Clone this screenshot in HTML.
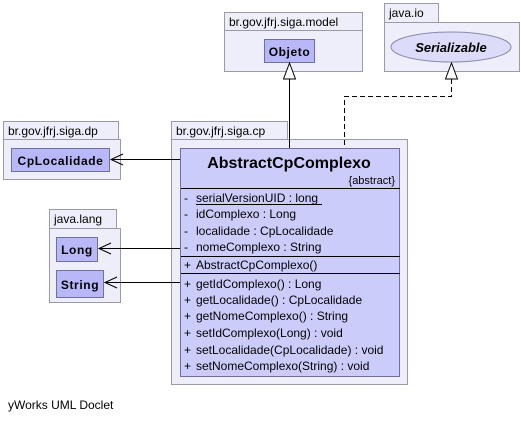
<!DOCTYPE html>
<html><head><meta charset="utf-8"><style>
html,body{margin:0;padding:0;background:#fff;}
svg{display:block;font-family:"Liberation Sans",Arial,sans-serif;}
</style></head><body>
<svg width="521" height="421" viewBox="0 0 521 421" xmlns="http://www.w3.org/2000/svg">
<g stroke="#9a9aaa" stroke-width="1" fill="#eeeefa">
  <rect x="224.5" y="12.5" width="138" height="18"/>
  <rect x="224.5" y="30.5" width="138" height="41"/>
  <rect x="384.5" y="3.5" width="54" height="19"/>
  <rect x="384.5" y="22.5" width="135" height="49"/>
  <rect x="3.5" y="121.5" width="115" height="18"/>
  <rect x="3.5" y="139.5" width="117" height="40"/>
  <rect x="49.5" y="209.5" width="67" height="19"/>
  <rect x="49.5" y="228.5" width="71" height="74"/>
  <rect x="171.5" y="121.5" width="116" height="18"/>
  <rect x="171.5" y="139.5" width="236" height="245"/>
</g>
<g font-size="12" fill="#000">
  <text x="229" y="26">br.gov.jfrj.siga.model</text>
  <text x="389" y="17">java.io</text>
  <text x="8" y="135">br.gov.jfrj.siga.dp</text>
  <text x="54" y="223">java.lang</text>
  <text x="176" y="135">br.gov.jfrj.siga.cp</text>
</g>
<g stroke="#7070a0" fill="#b8b8f8">
  <rect x="264.5" y="39.5" width="50" height="23"/>
  <rect x="11.5" y="148.5" width="98" height="23"/>
  <rect x="56.5" y="237.5" width="41" height="24"/>
  <rect x="56.5" y="270.5" width="47" height="27"/>
</g>
<ellipse cx="451" cy="47" rx="60" ry="15" fill="#dcdcfa" stroke="#8a8aaa"/>
<g font-weight="bold" font-size="12" letter-spacing="0.6" fill="#000" text-anchor="middle">
  <text x="289.5" y="56">Objeto</text>
  <text x="60.5" y="165">CpLocalidade</text>
  <text x="77" y="254">Long</text>
  <text x="80" y="289">String</text>
</g>
<text x="451" y="52" text-anchor="middle" font-weight="bold" font-style="italic" font-size="13">Serializable</text>
<rect x="180.5" y="148.5" width="219" height="228" fill="#ccccfa" stroke="#7070a0"/>
<g stroke="#000">
  <line x1="181" y1="188.5" x2="400" y2="188.5"/>
  <line x1="181" y1="256.5" x2="400" y2="256.5"/>
  <line x1="181" y1="273.5" x2="400" y2="273.5"/>
</g>
<text x="289" y="168" text-anchor="middle" font-weight="bold" font-size="16">AbstractCpComplexo</text>
<text x="395" y="184" text-anchor="end" font-size="11">{abstract}</text>
<g font-size="12" fill="#000">
  <text x="184" y="202">-</text><text x="196" y="202">serialVersionUID : long</text>
  <line x1="196" y1="204.5" x2="322" y2="204.5" stroke="#000"/>
  <text x="184" y="218">-</text><text x="196" y="218">idComplexo : Long</text>
  <text x="184" y="235">-</text><text x="196" y="235">localidade : CpLocalidade</text>
  <text x="184" y="251">-</text><text x="196" y="251">nomeComplexo : String</text>
  <text x="184" y="269">+</text><text x="196" y="269">AbstractCpComplexo()</text>
  <text x="184" y="288">+</text><text x="196" y="288">getIdComplexo() : Long</text>
  <text x="184" y="304">+</text><text x="196" y="304">getLocalidade() : CpLocalidade</text>
  <text x="184" y="320">+</text><text x="196" y="320">getNomeComplexo() : String</text>
  <text x="184" y="337">+</text><text x="196" y="337">setIdComplexo(Long) : void</text>
  <text x="184" y="354">+</text><text x="196" y="354">setLocalidade(CpLocalidade) : void</text>
  <text x="184" y="370">+</text><text x="196" y="370">setNomeComplexo(String) : void</text>
</g>
<g stroke="#000" fill="none">
  <line x1="289.5" y1="79" x2="289.5" y2="148"/>
  <polygon points="289.5,63 283.5,79 295.5,79" fill="#fff"/>
  <polyline points="451.5,79 451.5,96.5 344.5,96.5 344.5,148" stroke-dasharray="5,3"/>
  <polygon points="451.5,63 445.5,79 457.5,79" fill="#fff"/>
  <line x1="111" y1="159.5" x2="180" y2="159.5"/>
  <polyline points="123,154 111,159.5 123,165"/>
  <line x1="99" y1="248.5" x2="180" y2="248.5"/>
  <polyline points="111,243 99,248.5 111,254"/>
  <line x1="105" y1="282.5" x2="180" y2="282.5"/>
  <polyline points="117,277 105,282.5 117,288"/>
</g>
<text x="8" y="409" font-size="12">yWorks UML Doclet</text>
</svg>
</body></html>
